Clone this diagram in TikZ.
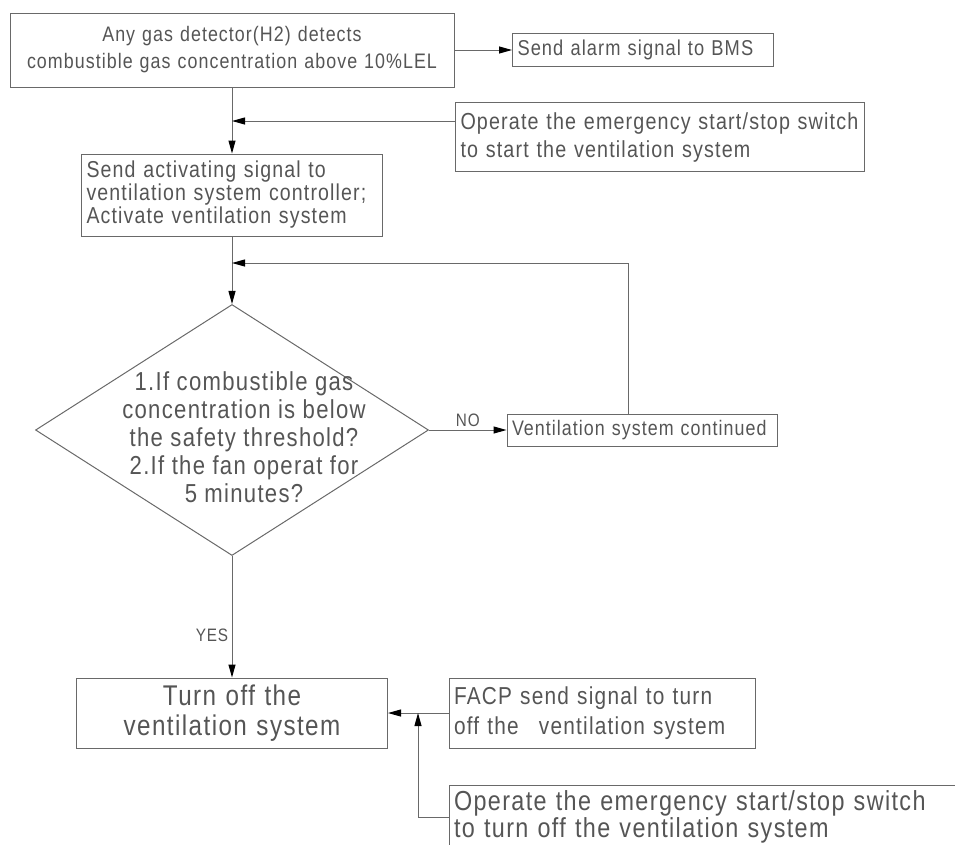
\documentclass[tikz,border=0pt]{standalone}
\usepackage{fontspec}
\setmainfont{Liberation Sans}[FakeStretch=0.85,LetterSpace=5]
\usetikzlibrary{arrows.meta,shapes.geometric}
\definecolor{linegray}{RGB}{105,105,105}
\definecolor{textgray}{RGB}{85,85,85}
\begin{document}
\begin{tikzpicture}[x=1pt,y=-1pt,>={Triangle[length=13pt,width=7pt,color=black]}]
        \tikzstyle{box}=[rectangle,draw=linegray,line width=1pt,inner sep=5pt,text=textgray,font=\fontsize{21}{27}\selectfont]
        \tikzstyle{decision}=[diamond,draw=linegray,line width=1pt,inner sep=0pt]
        \tikzstyle{tag}=[text=textgray,font=\fontsize{18}{22}\selectfont]
        \tikzstyle{edge}=[draw=linegray,line width=1pt,->]
        \useasboundingbox (0,0) rectangle (955,844);
        \clip (0,0) rectangle (955,844);
       \begin{scope}
         \node [box,align=center,text width=434pt,minimum height=74pt] (detect) at (232,50) {Any gas detector(H2) detects\\combustible gas concentration above 10\%LEL};
         \node [box,align=left,text width=251pt,minimum height=33pt,font=\fontsize{21.5}{24}\selectfont] (bms) at (643,50) {Send alarm signal to BMS};
         \node [box,align=left,text width=399pt,minimum height=69pt,font=\fontsize{23.2}{28}\selectfont] (start) at (660,137) {Operate the emergency start/stop switch\\to start the ventilation system};
         \node [box,align=left,text width=291pt,minimum height=82pt,font=\fontsize{23}{23}\selectfont] (activate) at (232,195) {Send activating signal to\\ventilation system controller;\\Activate ventilation system};
         \node [decision,minimum width=393pt,minimum height=251pt] (check) at (232,430) {};
         \node [tag,align=center,font=\fontsize{26}{28}\selectfont] (question) at (244,437) {1.If combustible gas\\concentration is below\\the safety threshold?\\2.If the fan operat for\\5 minutes?};
         \node [box,align=left,text width=260pt,minimum height=32pt] (continued) at (642,430) {Ventilation system continued};
         \node [box,align=center,text width=301pt,minimum height=70pt,font=\fontsize{28.5}{30}\selectfont] (off) at (232,713) {Turn off the\\ventilation system};
         \node [box,align=left,text width=296pt,minimum height=70pt,font=\fontsize{24.5}{30}\selectfont] (facp) at (602,713) {FACP send signal to turn\\off the\hspace{12pt} ventilation system};
         \node [box,align=left,text width=540pt,minimum height=64pt,font=\fontsize{27.5}{27}\selectfont] (stop) at (724,817) {Operate the emergency start/stop switch\\to turn off the ventilation system};
         \coordinate (j1) at (232,121);
         \coordinate (j2) at (232,263);
         \coordinate (j3) at (418,713);
         \path[edge] (detect) edge (bms);
         \path[edge] (detect) edge (activate);
         \draw[edge] (start.west |- j1) -- (j1);
         \path[edge] (activate) edge (check);
         \path[edge] (check) edge node[tag,above] {NO} (continued);
         \draw[edge] ([xshift=-14pt]continued.north) |- (j2);
         \path[edge] (check) edge node[tag,left,pos=0.65] {YES} (off);
         \path[edge] (facp) edge (off);
         \draw[edge] (stop.west) -| (j3);
        \end{scope}
      \end{tikzpicture}
\end{document}
